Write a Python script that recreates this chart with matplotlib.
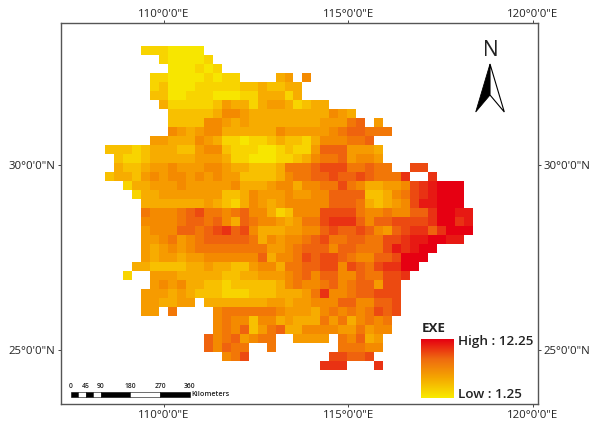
"""EXE raster map with graticule labels, north arrow, scale bar and legend."""

import matplotlib
matplotlib.use("Agg")
import matplotlib.pyplot as plt
import numpy as np
from matplotlib.colors import LinearSegmentedColormap
from matplotlib.patches import Polygon, Rectangle

plt.rcParams["font.family"] = ["Open Sans", "DejaVu Sans"]

# one char per cell, '.' = no data, 0-9/a/b = steps above the low value
EXE_ROWS = [
    "....1110000",
    "......100001",
    ".......000101",
    ".....1100001011....34.5",
    ".....12000111112232233",
    ".....22001110001133313",
    "......3111112433134431233",
    ".......222223554333333333543",
    ".......2222554343333333344467.4",
    ".......5434553333335444445677666",
    ".....4433354311011232213555667",
    "2221233322455211100121147774443",
    ".21123333344431100011235667 4554".replace(" ", ""),
    ".3223445444554332223666788866766..88",
    "2332454554545442222356677877876669..9",
    "..1334445444445333455355668653344589abbb",
    "...133444444422354445445577772235689abbb",
    "....3333333432135434555557776323458aabbb",
    "....6555678665675531255588886556557 79bbaa".replace(" ", ""),
    "....555567767537655434668999757788889bb9a",
    "....4555776789785333445578778754789979bbba",
    "....445645677777635455678667766889aabbaa",
    "....4345456666666644567775776668a9abb",
    "....43443445555557355687887655778bbb",
    "...332222334332245536677885876899bb",
    "..1..44433333223344456757755766889",
    ".....4545332212222235655675677488",
    "....44434322211122233346955677888",
    "....443344.3333333443445557755778",
    "....44.6....566666654443565656878",
    "............56552553433364635656",
    "............56572467335555446455",
    "...........75674566..4444.65734",
    "...........75766..6.......66655",
    ".............568.........88778",
    "........................999...9",
]
EXE_LOW = 1.25
EXE_HIGH = 12.25
LON_TICKS = [110, 115, 120]
LAT_TICKS = [25, 30]
SCALE_KM = [0, 22.5, 45, 67.5, 90, 180, 270, 360]
SCALE_LABELS = ["0", "45", "90", "180", "270", "360"]
SCALE_LABEL_KM = [0, 45, 90, 180, 270, 360]

W, H = 589, 423
N_COLS = 41
grid = np.full((len(EXE_ROWS), N_COLS), np.nan)
for i, row in enumerate(EXE_ROWS):
    for j, ch in enumerate(row[:N_COLS]):
        if ch != ".":
            grid[i, j] = EXE_LOW + int(ch, 16)

cmap = LinearSegmentedColormap.from_list(
    "exe",
    [(0, "#f7e600"), (0.12, "#f9cf00"), (0.25, "#f8b000"), (0.45, "#f58c00"),
     (0.65, "#ef6010"), (0.85, "#e92a14"), (1, "#e60012")],
)
legend_cmap = LinearSegmentedColormap.from_list(
    "ramp", ["#f9ea00", "#f5a800", "#ef6a10", "#e60012"]
)

fig = plt.figure(figsize=(W / 100, H / 100), dpi=100)
fl, fr, ft, fb = 61, 538, 23, 404
ax = fig.add_axes([fl / W, 1 - fb / H, (fr - fl) / W, (fb - ft) / H])
px_lon, px_lat = 36.85, 37.1
lon0 = 110 + (105 - 164) / px_lon
lat0 = 30 + (165 - 45.7) / px_lat
cell_x, cell_y = 8.97 / px_lon, 9.0 / px_lat
ax.imshow(
    np.ma.masked_invalid(grid),
    cmap=cmap,
    vmin=EXE_LOW,
    vmax=EXE_HIGH,
    extent=(lon0, lon0 + N_COLS * cell_x, lat0 - len(EXE_ROWS) * cell_y, lat0),
    interpolation="nearest",
    aspect="auto",
)
ax.set_xlim(110 - (164 - fl) / px_lon, 110 + (fr - 164) / px_lon)
ax.set_ylim(30 - (fb - 165) / px_lat, 30 + (165 - ft) / px_lat)

lon_labels = [f"{v}°0'0\"E" for v in LON_TICKS]
ax.set_xticks(LON_TICKS, lon_labels)
ax.set_yticks(LAT_TICKS, [f"{v}°0'0\"N" for v in LAT_TICKS])
ax.tick_params(
    right=True, labelright=True,
    length=2.5, width=0.7, color="#444444", labelsize=8.2, pad=1.5,
    labelcolor="#222222",
)
ax.tick_params(axis="x", pad=1.8)
top = ax.secondary_xaxis("top")
top.set_xticks(LON_TICKS, lon_labels)
top.tick_params(length=2.5, width=0.7, color="#444444", labelsize=8.2, pad=-0.3,
                labelcolor="#222222")
top.spines["top"].set_visible(False)
for s in ax.spines.values():
    s.set_color("#555555")
    s.set_linewidth(1.0)

# furniture drawn in picture pixels
px = fig.add_axes([0, 0, 1, 1], facecolor="none")
px.set_axis_off()

# north arrow
px.add_patch(Polygon([(490, 64), (475.7, 112), (490, 95)], fc="black", ec="black", lw=0.6))
px.add_patch(Polygon([(490, 64), (504.3, 112), (490, 95)], fc="white", ec="black", lw=0.8))
px.text(490.5, 51, "N", fontsize=15, ha="center", va="center", color="#222222")

# legend
ramp = np.linspace(EXE_HIGH, EXE_LOW, 120)[:, None]
px.imshow(ramp, cmap=legend_cmap, vmin=EXE_LOW, vmax=EXE_HIGH,
          extent=(421, 454, 398, 339), aspect="auto")
px.text(422, 328, "EXE", fontsize=9.6, fontweight="bold", va="center", color="#222222")
px.text(458, 341, f"High : {EXE_HIGH}", fontsize=9.7, fontweight="semibold",
        va="center", color="#222222")
px.text(458, 395, f"Low : {EXE_LOW}", fontsize=9.7, fontweight="semibold",
        va="center", color="#222222")

# scale bar
bar_x0, bar_x1, bar_top, bar_bot = 70.7, 190, 392.3, 396.7
km_px = (bar_x1 - bar_x0) / SCALE_KM[-1]
for k, (a, b) in enumerate(zip(SCALE_KM[:-1], SCALE_KM[1:])):
    px.add_patch(Rectangle(
        (bar_x0 + a * km_px, bar_top), (b - a) * km_px, bar_bot - bar_top,
        fc="black" if k % 2 == 0 else "white", ec="black", lw=0.4,
    ))
for km, lab in zip(SCALE_LABEL_KM, SCALE_LABELS):
    px.text(bar_x0 + km * km_px, 386, lab, fontsize=4.9, fontweight="semibold",
            ha="center", va="center", color="#222222")
px.text(191.5, 394.5, "Kilometers", fontsize=5.2, fontweight="semibold", va="center",
        color="#222222")

px.set_xlim(0, W)
px.set_ylim(H, 0)

fig.savefig("out.png", dpi=100, facecolor="white")
plt.close(fig)
